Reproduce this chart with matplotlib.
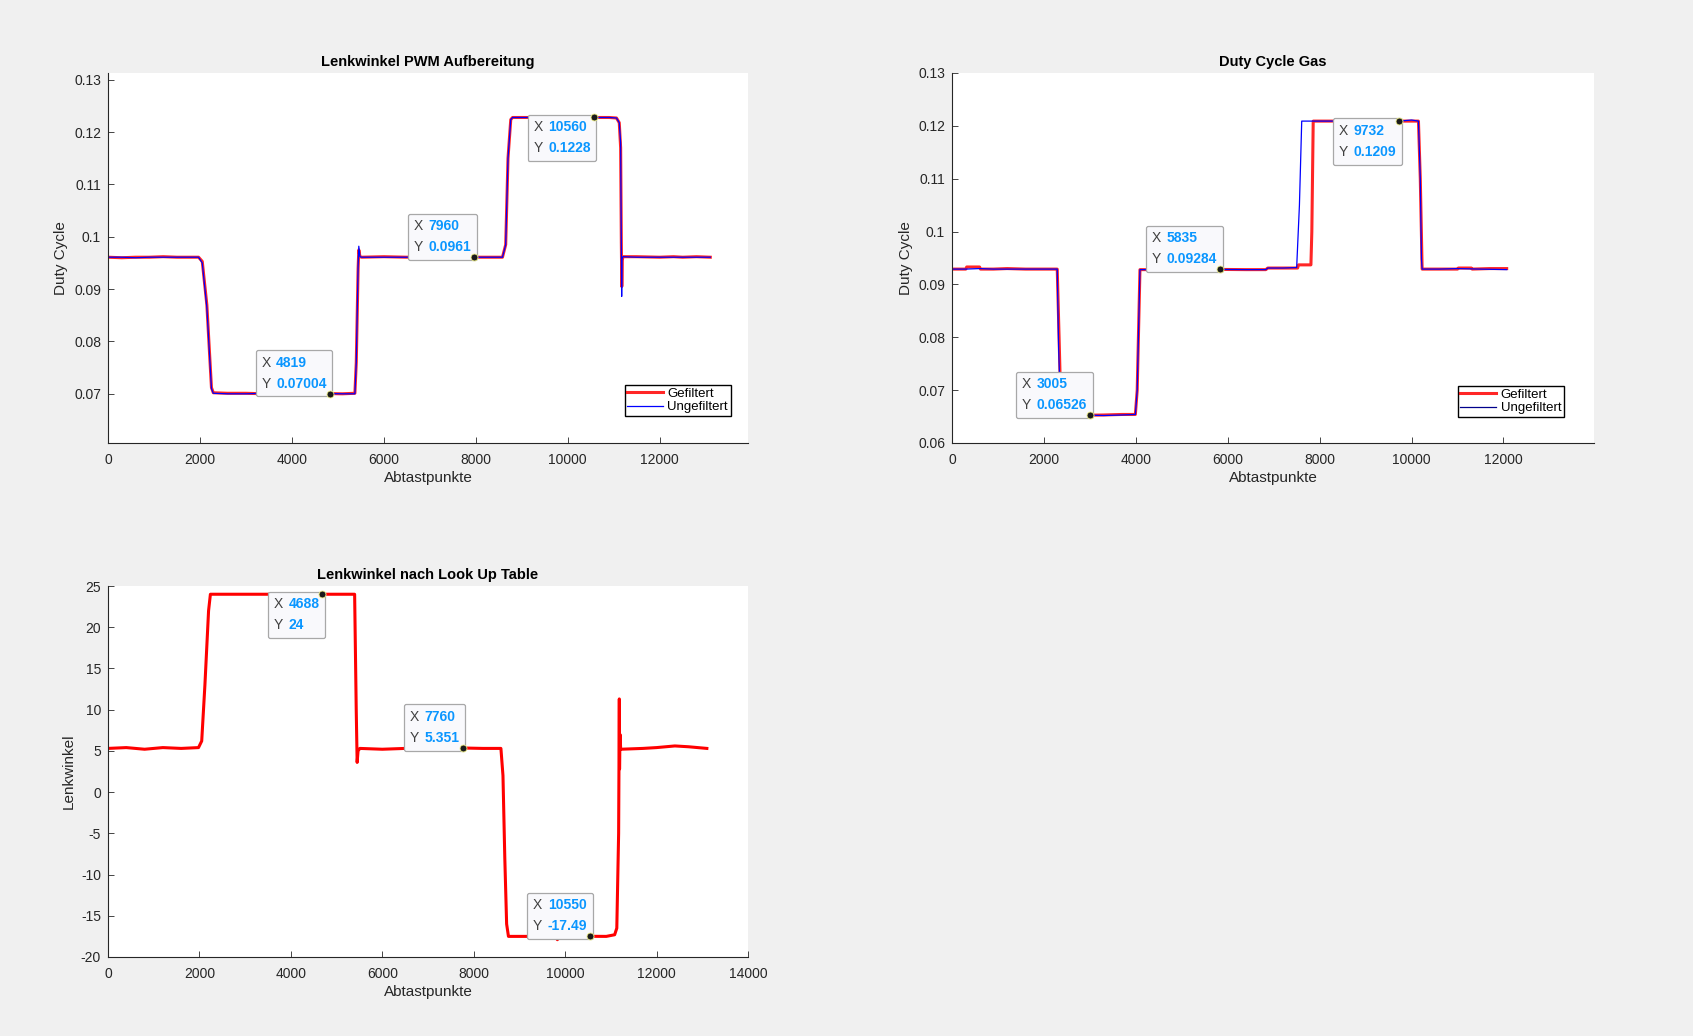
import numpy as np
import matplotlib
matplotlib.use('Agg')
import matplotlib.pyplot as plt
from matplotlib.ticker import FuncFormatter, MultipleLocator
from matplotlib.offsetbox import TextArea, HPacker, VPacker, AnnotationBbox

plt.rcParams['font.family'] = ['Liberation Sans', 'DejaVu Sans']

# --- Lenkwinkel PWM Aufbereitung (duty cycle) ---
pwm_x_gef = [0, 300, 600, 900, 1200, 1500, 1800, 1970, 2050, 2150, 2250, 2290, 2600, 3000,
             3400, 3800, 4200, 4600, 4819, 5100, 5370, 5400, 5440, 5455, 5480, 5520, 6000,
             6500, 7000, 7500, 7900, 7960, 8300, 8580, 8650, 8700, 8760, 8800, 9200, 9600,
             10000, 10560, 10900, 11060, 11120, 11150, 11165, 11175, 11185, 11200, 11500,
             12000, 12300, 12500, 12800, 13100]
pwm_y_gef = [0.0961, 0.0960, 0.0961, 0.0961, 0.0962, 0.0961, 0.0961, 0.0961, 0.0953, 0.0870,
             0.0712, 0.0702, 0.0701, 0.0701, 0.0700, 0.0701, 0.0700, 0.0701, 0.07004, 0.0700,
             0.0701, 0.0760, 0.0940, 0.0975, 0.0962, 0.0961, 0.0962, 0.0961, 0.0962, 0.0961,
             0.0960, 0.0961, 0.0961, 0.0961, 0.0985, 0.1150, 0.1224, 0.1228, 0.1228, 0.1228,
             0.1229, 0.1228, 0.1228, 0.1227, 0.1218, 0.1170, 0.0990, 0.0905, 0.0955, 0.0962,
             0.0962, 0.0961, 0.0962, 0.0961, 0.0962, 0.0961]
pwm_x_ungef = [0, 300, 600, 900, 1200, 1500, 1800, 1970, 2050, 2150, 2250, 2290, 2600, 3000,
               3400, 3800, 4200, 4600, 4819, 5100, 5370, 5400, 5440, 5455, 5480, 5520, 6000,
               6500, 7000, 7500, 7800, 7900, 7960, 8300, 8580, 8650, 8700, 8760, 8800, 9200,
               9800, 9830, 9860, 10560, 10900, 11060, 11120, 11150, 11165, 11172, 11180,
               11200, 11500, 12000, 12500, 13100]
pwm_y_ungef = [0.0961, 0.0961, 0.0960, 0.0961, 0.0961, 0.0961, 0.0961, 0.0961, 0.0950, 0.0865,
               0.0710, 0.0701, 0.0700, 0.0700, 0.0701, 0.0700, 0.0700, 0.0700, 0.07004, 0.0700,
               0.0700, 0.0760, 0.0945, 0.0982, 0.0962, 0.0961, 0.0961, 0.0961, 0.0961, 0.0961,
               0.0960, 0.0958, 0.0961, 0.0961, 0.0961, 0.0985, 0.1150, 0.1224, 0.1228, 0.1228,
               0.1228, 0.1231, 0.1228, 0.1228, 0.1228, 0.1227, 0.1218, 0.1180, 0.0975, 0.0886,
               0.0958, 0.0962, 0.0961, 0.0961, 0.0961, 0.0961]

# --- Duty Cycle Gas ---
gas_x_gef = [0, 300, 320, 600, 620, 900, 1200, 1600, 2000, 2290, 2330, 2360, 2400, 2700, 3005,
             3300, 3700, 3990, 4030, 4090, 4500, 5000, 5835, 6400, 6830, 6870, 7200, 7520,
             7540, 7810, 7830, 7860, 8000, 8600, 9000, 9732, 10000, 10150, 10190, 10230,
             10600, 11000, 11020, 11300, 11320, 11700, 12070]
gas_y_gef = [0.0929, 0.0929, 0.0933, 0.0933, 0.0929, 0.0929, 0.0930, 0.0929, 0.0929, 0.0929,
             0.0800, 0.0700, 0.0654, 0.0653, 0.06526, 0.0653, 0.0654, 0.0654, 0.0700, 0.0928,
             0.0928, 0.0929, 0.09284, 0.0928, 0.0928, 0.0931, 0.0931, 0.0931, 0.0937, 0.0937,
             0.1000, 0.1209, 0.1209, 0.1209, 0.1209, 0.1209, 0.1209, 0.1209, 0.1100, 0.0929,
             0.0929, 0.0929, 0.0931, 0.0931, 0.0929, 0.0930, 0.0930]
gas_x_ungef = [0, 300, 600, 900, 1200, 1600, 2000, 2290, 2320, 2350, 2400, 2700, 3005, 3300,
               3700, 3990, 4030, 4090, 4500, 5000, 5835, 6400, 6830, 6870, 7200, 7500, 7560,
               7610, 8000, 8600, 9000, 9732, 10000, 10150, 10190, 10215, 10230, 10600, 11000,
               11500, 12070]
gas_y_ungef = [0.0929, 0.0929, 0.0930, 0.0929, 0.0929, 0.0929, 0.0929, 0.0929, 0.0780, 0.0700,
               0.0653, 0.0650, 0.06526, 0.0652, 0.0653, 0.0654, 0.0700, 0.0928, 0.0928, 0.0929,
               0.09284, 0.0928, 0.0928, 0.0931, 0.0931, 0.0932, 0.1050, 0.1209, 0.1209, 0.1209,
               0.1209, 0.1209, 0.1211, 0.1209, 0.1100, 0.0948, 0.0929, 0.0929, 0.0930, 0.0929,
               0.0928]

# --- Lenkwinkel nach Look Up Table ---
lut_x = [0, 400, 800, 1200, 1600, 1980, 2050, 2120, 2200, 2240, 2800, 3400, 4000, 4688, 5100,
         5395, 5430, 5450, 5470, 5510, 6000, 6500, 7000, 7500, 7760, 8200, 8595, 8640, 8680,
         8720, 8760, 9200, 9800, 9830, 9860, 10200, 10550, 10900, 11083, 11130, 11170, 11185,
         11190, 11200, 11215, 11700, 12000, 12400, 12700, 13100]
lut_y = [5.3, 5.4, 5.2, 5.4, 5.3, 5.4, 6.2, 13, 22, 24, 24, 24, 24, 24, 24,
         24, 10, 3.6, 5.0, 5.3, 5.2, 5.3, 5.4, 5.3, 5.351, 5.3, 5.3, 2, -8,
         -16, -17.5, -17.5, -17.5, -17.9, -17.5, -17.5, -17.49, -17.5, -17.3, -16.5, -5, 11.3,
         2.8, 7, 5.2, 5.3, 5.4, 5.6, 5.5, 5.3]

# data tips: (x, y, direction)
pwm_tips = [(4819, 0.07004, 'up'), (7960, 0.0961, 'up'), (10560, 0.1228, 'down')]
gas_tips = [(3005, 0.06526, 'up'), (5835, 0.09284, 'up'), (9732, 0.1209, 'down')]
lut_tips = [(4688, 24, 'down'), (7760, 5.351, 'up'), (10550, -17.49, 'up')]

W, H = 1693, 1036
TXT = '#262626'
TIP_BLUE = '#0A96FF'


def style_axes(ax):
    ax.set_facecolor('white')
    for s in ('top', 'right'):
        ax.spines[s].set_visible(False)
    for s in ('left', 'bottom'):
        ax.spines[s].set_color(TXT)
        ax.spines[s].set_linewidth(0.8)
    ax.tick_params(direction='in', length=4, width=0.6, colors=TXT, labelsize=10)
    ax.tick_params(axis='x', pad=7)
    ax.tick_params(axis='y', pad=5)
    ax.yaxis.set_major_formatter(FuncFormatter(lambda v, p: f'{v:g}'))
    ax.xaxis.set_major_formatter(FuncFormatter(lambda v, p: f'{v:g}'))


def fmt_val(v):
    if float(v).is_integer():
        return str(int(v))
    return f'{v:.4g}'


def add_tip(ax, x, y, direction):
    ax.plot([x], [y], 'o', ms=5, mfc='#1a1a1a', mec='#eeee88', mew=0.6, zorder=8)
    rows = []
    for name, val in (('X', x), ('Y', y)):
        rows.append(HPacker(children=[
            TextArea(name, textprops=dict(color='#404040', fontsize=10)),
            TextArea(fmt_val(val), textprops=dict(color=TIP_BLUE, fontsize=10, fontweight='bold')),
        ], align='baseline', pad=0, sep=4))
    box = VPacker(children=rows, align='left', pad=0, sep=5)
    if direction == 'up':
        align, off = (1, 0), (-3, 3)
    else:
        align, off = (1, 1), (-3, -3)
    ab = AnnotationBbox(box, (x, y), xybox=off, boxcoords='offset pixels',
                        box_alignment=align, pad=0.5, fontsize=9,
                        bboxprops=dict(boxstyle='round,pad=0.45,rounding_size=0.15',
                                       fc='#F9F9FC', ec='#A8A8A8', lw=0.9),
                        zorder=7)
    ax.add_artist(ab)


def axes_rect(l, t, r, b):
    return [l / W, 1 - b / H, (r - l) / W, (b - t) / H]


def setup_legend(ax, anchor):
    return ax.legend(loc='lower right', bbox_to_anchor=anchor, borderaxespad=0, fontsize=9.5,
                     fancybox=False, framealpha=1, edgecolor='black', handlelength=2.7,
                     handletextpad=0.35, labelspacing=0.1, borderpad=0.2)


fig = plt.figure(figsize=(W / 100, H / 100), dpi=100, facecolor='#F0F0F0')

# Panel 1
ax1 = fig.add_axes(axes_rect(108, 73, 748, 443))
style_axes(ax1)
ax1.plot(pwm_x_gef, pwm_y_gef, color='#FF0000', lw=2.2, label='Gefiltert', alpha=0.85)
ax1.plot(pwm_x_ungef, pwm_y_ungef, color='#0000FF', lw=0.9, label='Ungefiltert')
ax1.set_xlim(0, 13920)
ax1.set_ylim(0.0606, 0.1313)
ax1.xaxis.set_major_locator(MultipleLocator(2000))
ax1.yaxis.set_major_locator(MultipleLocator(0.01))
ax1.set_title('Lenkwinkel PWM Aufbereitung', fontsize=10.5, fontweight='bold', color='black', pad=5)
ax1.set_xlabel('Abtastpunkte', fontsize=11, color=TXT, labelpad=3)
ax1.set_ylabel('Duty Cycle', fontsize=11, color=TXT)
setup_legend(ax1, (0.973, 0.073))
for x, y, d in pwm_tips:
    add_tip(ax1, x, y, d)

# Panel 2
ax2 = fig.add_axes(axes_rect(952, 73, 1594, 443))
style_axes(ax2)
ax2.plot(gas_x_gef, gas_y_gef, color='#FF0000', lw=2.2, label='Gefiltert', alpha=0.85)
ax2.plot(gas_x_ungef, gas_y_ungef, color='#0000FF', lw=0.9, label='Ungefiltert')
ax2.set_xlim(0, 13970)
ax2.set_ylim(0.06, 0.13)
ax2.xaxis.set_major_locator(MultipleLocator(2000))
ax2.yaxis.set_major_locator(MultipleLocator(0.01))
ax2.set_title('Duty Cycle Gas', fontsize=10.5, fontweight='bold', color='black', pad=5)
ax2.set_xlabel('Abtastpunkte', fontsize=11, color=TXT, labelpad=3)
ax2.set_ylabel('Duty Cycle', fontsize=11, color=TXT)
leg2 = setup_legend(ax2, (0.953, 0.070))
leg2.get_lines()[1].set_color('#00008B')
for x, y, d in gas_tips:
    add_tip(ax2, x, y, d)

# Panel 3
ax3 = fig.add_axes(axes_rect(108, 586, 748, 957))
style_axes(ax3)
ax3.plot(lut_x, lut_y, color='#FF0000', lw=2.2)
ax3.set_xlim(0, 14000)
ax3.set_ylim(-20, 25)
ax3.xaxis.set_major_locator(MultipleLocator(2000))
ax3.yaxis.set_major_locator(MultipleLocator(5))
ax3.set_title('Lenkwinkel nach Look Up Table', fontsize=10.5, fontweight='bold', color='black', pad=5)
ax3.set_xlabel('Abtastpunkte', fontsize=11, color=TXT, labelpad=3)
ax3.set_ylabel('Lenkwinkel', fontsize=11, color=TXT)
for x, y, d in lut_tips:
    add_tip(ax3, x, y, d)

fig.savefig('out.png', dpi=100, facecolor=fig.get_facecolor())
